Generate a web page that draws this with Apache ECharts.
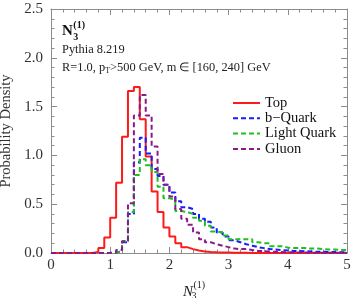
<!DOCTYPE html>
<html><head><meta charset="utf-8">
<script src="https://cdn.jsdelivr.net/npm/echarts@6/dist/echarts.min.js"></script>
<style>html,body{margin:0;padding:0;background:#fff}#c{width:354px;height:298px}</style>
</head><body><div id="c"></div>
<script>
// Bin left edges (bin width 0.1)
const binEdges = [0.0,0.1,0.2,0.3,0.4,0.5,0.6,0.7,0.8,0.9,
  1.0,1.1,1.2,1.3,1.4,1.5,1.6,1.7,1.8,1.9,
  2.0,2.1,2.2,2.3,2.4,2.5,2.6,2.7,2.8,2.9,
  3.0,3.1,3.2,3.3,3.4,3.5,3.6,3.7,3.8,3.9,
  4.0,4.1,4.2,4.3,4.4,4.5,4.6,4.7,4.8,4.9];
const histEnd = 5.0;
const seriesNames = ['Top','b\u2212Quark','Light Quark','Gluon'];
const topVals = [0,0,0,0,0,0,0,0.01,0.05,0.16,
  0.36,0.72,1.19,1.66,1.70,1.37,0.99,0.63,0.42,0.26,
  0.17,0.10,0.06,0.04,0.025,0.015,0.01,0.007,0.005,0.004,
  0.003,0.002,0.002,0.001,0.001,0.001,0,0,0,0,
  0,0,0,0,0,0,0,0,0,0];
const bQuarkVals = [0,0,0,0,0,0,0,0,0,0,
  0.004,0.02,0.11,0.40,0.93,1.18,1.02,0.86,0.79,0.70,
  0.62,0.53,0.47,0.45,0.40,0.35,0.32,0.26,0.21,0.17,
  0.13,0.11,0.09,0.075,0.06,0.05,0.04,0.035,0.03,0.025,
  0.02,0.02,0.018,0.015,0.013,0.012,0.01,0.009,0.008,0.007];
const lightQuarkVals = [0,0,0,0,0,0,0,0,0,0,
  0.004,0.02,0.12,0.42,0.80,0.96,0.90,0.83,0.68,0.56,
  0.55,0.43,0.42,0.40,0.36,0.33,0.28,0.22,0.21,0.18,
  0.14,0.14,0.14,0.14,0.11,0.10,0.10,0.07,0.07,0.055,
  0.05,0.05,0.05,0.045,0.045,0.04,0.035,0.035,0.03,0.03];
const gluonVals = [0,0,0,0,0,0,0,0,0,0.002,
  0.006,0.03,0.12,0.51,1.41,1.62,1.41,1.09,0.81,0.70,
  0.58,0.45,0.35,0.29,0.21,0.14,0.11,0.09,0.075,0.06,
  0.045,0.04,0.04,0.03,0.02,0.02,0.015,0.012,0.01,0.008,
  0.006,0.005,0.004,0.004,0.003,0.003,0.002,0.002,0.002,0.001];
const xTicks = [0,1,2,3,4,5];
const yTicks = [0,0.5,1.0,1.5,2.0,2.5];

const colors = ['#ff1a1a','#1a1aff','#1fbf1f','#8a1a8a'];
const FONT = '"Liberation Serif","Times New Roman",serif';

function steps(vals){
  const d = binEdges.map((e,i)=>[e, vals[i]]);
  d.push([histEnd, vals[vals.length-1]]);
  return d;
}
const ctx2 = document.createElement('canvas').getContext('2d');
function tw(t, f){ ctx2.font = f; return ctx2.measureText(t).width; }

const chart = echarts.init(document.getElementById('c'), null, {renderer:'canvas'});
const axisCol = '#8c8c8c';
const baseX = {
  type:'value', min:xTicks[0], max:xTicks[xTicks.length-1], interval:1,
  axisLine:{show:true, onZero:false, lineStyle:{color:axisCol, width:1}},
  axisTick:{show:true, inside:true, length:6, lineStyle:{color:axisCol}},
  minorTick:{show:true, splitNumber:5, length:3.5, lineStyle:{color:axisCol}},
  splitLine:{show:false}
};
const baseY = {
  type:'value', min:yTicks[0], max:yTicks[yTicks.length-1], interval:0.5,
  axisLine:{show:true, onZero:false, lineStyle:{color:axisCol, width:1}},
  axisTick:{show:true, inside:true, length:6, lineStyle:{color:axisCol}},
  minorTick:{show:true, splitNumber:5, length:3.5, lineStyle:{color:axisCol}},
  splitLine:{show:false}
};

const fN = 'bold 15px ' + FONT, fS = 'bold 10px ' + FONT;
const wN = tw('N', fN);
const fNi = 'italic 15px ' + FONT, fSi = '10px ' + FONT;
const wNi = tw('N', fNi);
const fTxt = '12.4px ' + FONT, fSub = '8px ' + FONT;
const w1 = tw('R=1.0, p', fTxt), wT = tw('T', fSub);

const allVals = [topVals, bQuarkVals, lightQuarkVals, gluonVals];
const series = allVals.map((v,i)=>({
  name: seriesNames[i], type:'line', step:'end', symbol:'none', showSymbol:false,
  data: steps(v), clip:true,
  lineStyle:{color:colors[i], width:2, type: i===0 ? 'solid' : [5,3]},
  itemStyle:{color:colors[i]},
  z: i===0 ? 2 : 3
}));

// custom legend
const legX = 233, legY0 = 103, legDy = 15.3;
const legend = [];
seriesNames.forEach((n,i)=>{
  const y = legY0 + i*legDy;
  legend.push({type:'line', shape:{x1:legX, y1:y, x2:legX+27, y2:y},
    style:{stroke:colors[i], lineWidth:2, lineDash: i===0 ? null : [5,3]}});
  legend.push({type:'text', x:legX+32, y:y, style:{text:n, font:'14.5px '+FONT, fill:'#111', verticalAlign:'middle'}});
});

chart.setOption({
  animation:false,
  backgroundColor:'#fff',
  grid:{left:51, right:7, top:9, bottom:45, outerBoundsMode:'none', containLabel:false},
  xAxis:[
    Object.assign({}, baseX, {position:'bottom',
      axisLabel:{show:true, fontFamily:FONT, fontSize:15, color:'#333', margin:5}}),
    Object.assign({}, baseX, {position:'top', axisLabel:{show:false}})
  ],
  yAxis:[
    Object.assign({}, baseY, {position:'left',
      axisLabel:{show:true, fontFamily:FONT, fontSize:15, color:'#333', margin:8,
        formatter:v=>v.toFixed(1)},
      name:'Probability Density', nameLocation:'middle', nameGap:28,
      nameTextStyle:{fontFamily:FONT, fontSize:14.5, color:'#333'}}),
    Object.assign({}, baseY, {position:'right', axisLabel:{show:false}})
  ],
  series: series,
  graphic:[
    {type:'text', x:62, y:31, style:{text:'N', font:fN, fill:'#111', verticalAlign:'middle'}},
    {type:'text', x:62+wN+0.5, y:25, style:{text:'(1)', font:fS, fill:'#111', verticalAlign:'middle'}},
    {type:'text', x:62+wN+0.5, y:37.5, style:{text:'3', font:fS, fill:'#111', verticalAlign:'middle'}},
    {type:'text', x:62, y:50, style:{text:'Pythia 8.219', font:fTxt, fill:'#222', verticalAlign:'middle'}},
    {type:'text', x:62, y:67.5, style:{text:'R=1.0, p', font:fTxt, fill:'#222', verticalAlign:'middle'}},
    {type:'text', x:62+w1, y:71, style:{text:'T', font:fSub, fill:'#222', verticalAlign:'middle'}},
    {type:'text', x:62+w1+wT, y:67.5, style:{text:'>500 GeV, m \u2208 [160, 240] GeV', font:fTxt, fill:'#222', verticalAlign:'middle'}},
    {type:'text', x:183, y:292, style:{text:'N', font:fNi, fill:'#222', verticalAlign:'middle'}},
    {type:'text', x:183+wNi+0.5, y:285, style:{text:'(1)', font:fSi, fill:'#222', verticalAlign:'middle'}},
    {type:'text', x:183+wNi-1.5, y:296, style:{text:'3', font:fSi, fill:'#222', verticalAlign:'middle'}}
  ].concat(legend)
});
</script></body></html>
